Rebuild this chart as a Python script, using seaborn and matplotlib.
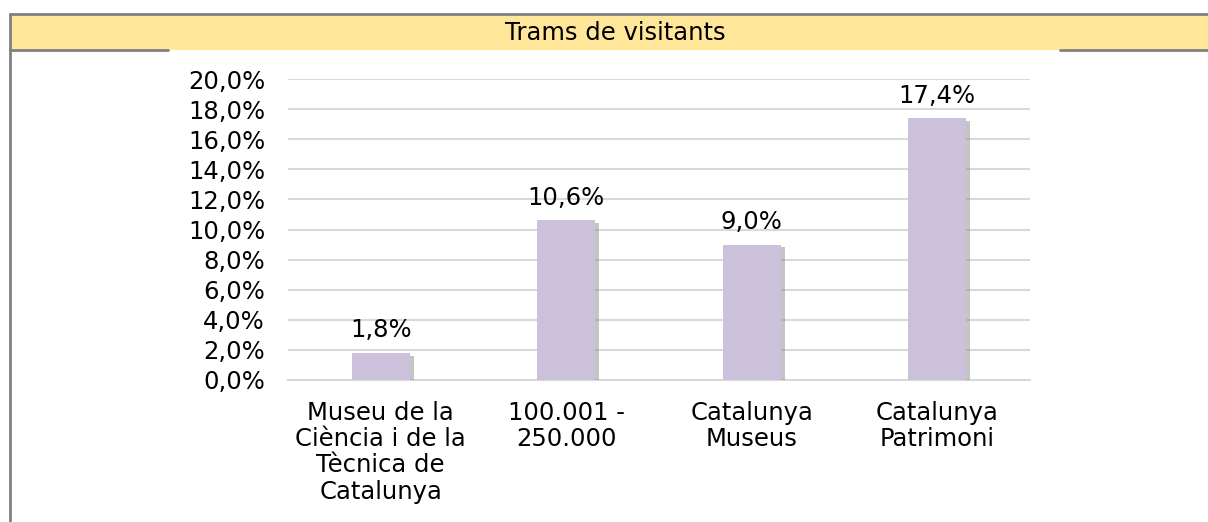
import numpy as np
import pandas as pd
import matplotlib
matplotlib.use("Agg")
import matplotlib.pyplot as plt
import matplotlib.patheffects as pe
from matplotlib.patches import Rectangle
from matplotlib.lines import Line2D
import seaborn as sns

# data
categories = ["Museu de la\nCiència i de la\nTècnica de\nCatalunya",
              "100.001 -\n250.000",
              "Catalunya\nMuseus",
              "Catalunya\nPatrimoni"]
values = [1.8, 10.6, 9.0, 17.4]
title = "Trams de visitants"
yticks = [0, 2, 4, 6, 8, 10, 12, 14, 16, 18, 20]

df = pd.DataFrame({"cat": categories, "val": values})

sns.set_style("white")
plt.rcParams['font.family'] = ['DejaVu Sans']
plt.rcParams['text.color'] = 'black'
plt.rcParams['xtick.color'] = 'black'
plt.rcParams['ytick.color'] = 'black'

fig = plt.figure(figsize=(12.08, 5.22), dpi=100)
W, H = 1208, 522

# header band and frame lines
fig.patches.append(Rectangle((10 / W, 1 - 50 / H), 1 - 10 / W, 36 / H,
                             transform=fig.transFigure, facecolor="#FFE699",
                             edgecolor="none", zorder=0))
grey = "#808080"
fig.lines.append(Line2D([10 / W, 1], [1 - 14 / H] * 2, transform=fig.transFigure,
                        color=grey, lw=2))
fig.lines.append(Line2D([10 / W, 10 / W], [0, 1 - 14 / H], transform=fig.transFigure,
                        color=grey, lw=2))
fig.lines.append(Line2D([10 / W, 168 / W], [1 - 50 / H] * 2, transform=fig.transFigure,
                        color=grey, lw=2))
fig.lines.append(Line2D([1060 / W, 1], [1 - 50 / H] * 2, transform=fig.transFigure,
                        color=grey, lw=2))
fig.text(615 / W, 1 - 33 / H, title, ha="center", va="center", fontsize=17.5,
         color="black")

ax = fig.add_axes([288 / W, 1 - 380 / H, 742 / W, 301 / H])
sns.barplot(data=df, x="cat", y="val", color="#CCC1DA", width=0.31,
            saturation=1, ax=ax, zorder=3, linewidth=0)

for p in ax.patches:
    p.set_path_effects([pe.SimplePatchShadow(offset=(3, -2), shadow_rgbFace="#8c8c8c",
                                             alpha=0.5), pe.Normal()])

for i, v in enumerate(values):
    ax.text(i, v + 0.7, f"{v:.1f}%".replace(".", ","), ha="center", va="bottom",
            fontsize=17.5, color="black")

ax.set_ylim(0, 20)
ax.set_xlim(-0.5, 3.5)
ax.set_yticks(yticks)
ax.set_yticklabels([f"{t:.1f}%".replace(".", ",") for t in yticks], fontsize=17.5)
ax.yaxis.grid(True, color="#D9D9D9", lw=1.5, zorder=0)
ax.set_axisbelow(True)
ax.tick_params(axis="y", length=0, pad=16.5)
ax.tick_params(axis="x", length=0, pad=15, labelsize=17.5)
for lbl in ax.get_xticklabels():
    lbl.set_linespacing(1.12)
ax.set_xlabel("")
ax.set_ylabel("")
for s in ["left", "right", "top"]:
    ax.spines[s].set_visible(False)
ax.spines["bottom"].set_color("#D9D9D9")
ax.spines["bottom"].set_linewidth(1.5)

fig.savefig("out.png", dpi=100)
